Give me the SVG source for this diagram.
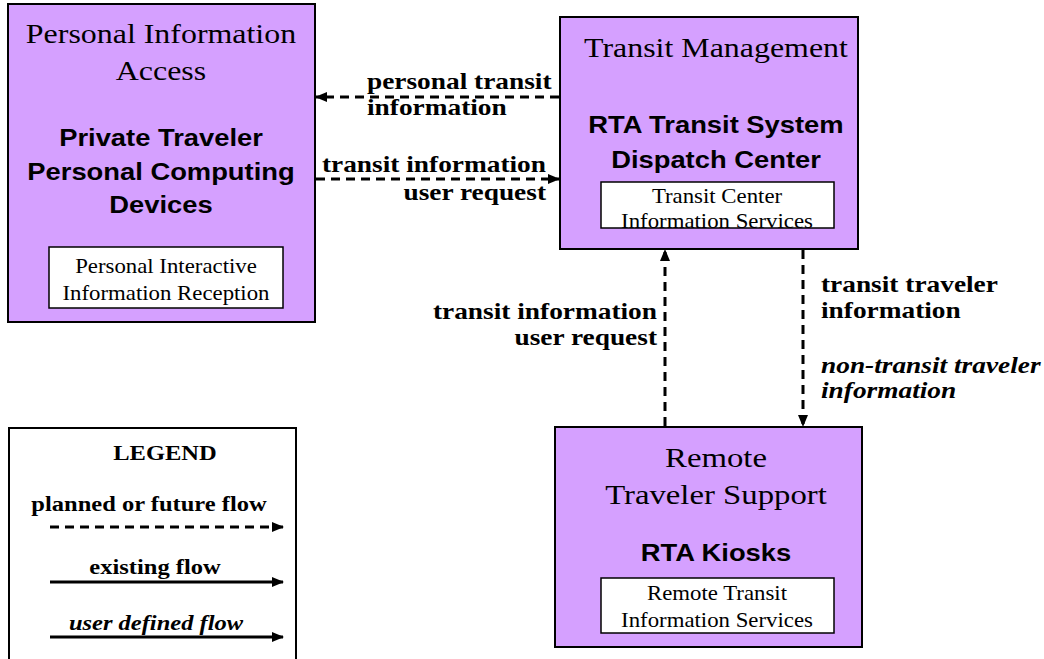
<svg xmlns="http://www.w3.org/2000/svg" width="1044" height="659" viewBox="0 0 1044 659">
<style>
.box{fill:#D5A0FF;stroke:#000;stroke-width:2}
.inner{fill:#fff;stroke:#000;stroke-width:1.5}
.t{font-family:"Liberation Serif",serif;font-size:28px;text-anchor:middle;fill:#000}
.b{font-family:"Liberation Sans",sans-serif;font-weight:bold;font-size:24px;text-anchor:middle;fill:#000}
.s{font-family:"Liberation Serif",serif;font-size:20px;text-anchor:middle;fill:#000}
.l{font-family:"Liberation Serif",serif;font-weight:bold;font-size:24px;fill:#000}
.g{font-family:"Liberation Serif",serif;font-weight:bold;font-size:21.5px;text-anchor:middle;fill:#000}
.i{font-style:italic}
.e{text-anchor:end}
.dash{stroke:#000;stroke-width:3;fill:none;stroke-dasharray:9,6}
.solid{stroke:#000;stroke-width:3;fill:none}
</style>
<defs>
<marker id="ah" viewBox="0 0 12 10" refX="11" refY="5" markerWidth="12" markerHeight="10" markerUnits="userSpaceOnUse" orient="auto">
<path d="M0,0 L12,5 L0,10 Z" fill="#000"/>
</marker>
</defs>
<rect width="1044" height="659" fill="#fff"/>
<g id="personal-info-access">
<rect class="box" x="8" y="4" width="307" height="318"/>
<text class="t" transform="translate(161,43) scale(1.14,1)">Personal Information</text>
<text class="t" transform="translate(161,80) scale(1.14,1)">Access</text>
<text class="b" transform="translate(161,146) scale(1.14,1)">Private Traveler</text>
<text class="b" transform="translate(161,180) scale(1.14,1)">Personal Computing</text>
<text class="b" transform="translate(161,213) scale(1.14,1)">Devices</text>
<rect class="inner" x="49" y="247" width="234" height="61"/>
<text class="s" transform="translate(166,273) scale(1.14,1)">Personal Interactive</text>
<text class="s" transform="translate(166,300) scale(1.14,1)">Information Reception</text>
</g>
<g id="transit-management">
<rect class="box" x="560" y="17" width="298" height="232"/>
<text class="t" transform="translate(716,57) scale(1.14,1)">Transit Management</text>
<text class="b" transform="translate(716,133) scale(1.14,1)">RTA Transit System</text>
<text class="b" transform="translate(716,168) scale(1.14,1)">Dispatch Center</text>
<rect class="inner" x="601" y="182" width="233" height="46"/>
<text class="s" transform="translate(717,203) scale(1.14,1)">Transit Center</text>
<text class="s" transform="translate(717,228) scale(1.14,1)">Information Services</text>
</g>
<g id="remote-traveler-support">
<rect class="box" x="555" y="427" width="307" height="220"/>
<text class="t" transform="translate(716,467) scale(1.17,1)">Remote</text>
<text class="t" transform="translate(716,504) scale(1.17,1)">Traveler Support</text>
<text class="b" transform="translate(716,561) scale(1.14,1)">RTA Kiosks</text>
<rect class="inner" x="601" y="578" width="233" height="55"/>
<text class="s" transform="translate(717,600) scale(1.14,1)">Remote Transit</text>
<text class="s" transform="translate(717,627) scale(1.14,1)">Information Services</text>
</g>
<g id="legend">
<path d="M9,659 V428 H296 V659" fill="#fff" stroke="#000" stroke-width="2"/>
<text class="g" transform="translate(165,460) scale(1.14,1)">LEGEND</text>
<text class="g" transform="translate(149,511) scale(1.14,1)">planned or future flow</text>
<line class="dash" x1="50" y1="527" x2="283" y2="527" marker-end="url(#ah)"/>
<text class="g" transform="translate(155,574) scale(1.14,1)">existing flow</text>
<line class="solid" x1="50" y1="582" x2="283" y2="582" marker-end="url(#ah)"/>
<text class="g i" transform="translate(156,630) scale(1.14,1)">user defined flow</text>
<line class="solid" x1="50" y1="637" x2="283" y2="637" marker-end="url(#ah)"/>
</g>
<g id="connectors">
<line class="dash" x1="559" y1="97" x2="316" y2="97" marker-end="url(#ah)"/>
<text class="l" transform="translate(367,89) scale(1.14,1)">personal transit</text>
<text class="l" transform="translate(367,115) scale(1.14,1)">information</text>
<line class="dash" x1="316" y1="179" x2="559" y2="179" marker-end="url(#ah)"/>
<text class="l e" transform="translate(546,172) scale(1.14,1)">transit information</text>
<text class="l e" transform="translate(546,200) scale(1.14,1)">user request</text>
<line class="dash" x1="665" y1="426" x2="665" y2="250" marker-end="url(#ah)"/>
<text class="l e" transform="translate(657,319) scale(1.14,1)">transit information</text>
<text class="l e" transform="translate(657,345) scale(1.14,1)">user request</text>
<line class="dash" x1="803" y1="250" x2="803" y2="426" marker-end="url(#ah)"/>
<text class="l" transform="translate(821,292) scale(1.14,1)">transit traveler</text>
<text class="l" transform="translate(821,318) scale(1.14,1)">information</text>
<text class="l i" transform="translate(821,373) scale(1.14,1)">non-transit traveler</text>
<text class="l i" transform="translate(821,398) scale(1.14,1)">information</text>
</g>
</svg>
